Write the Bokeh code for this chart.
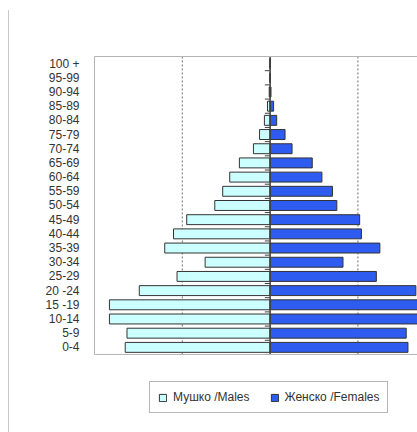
from bokeh.plotting import figure
from bokeh.models import (Range1d, FixedTicker, Span, Legend, LegendItem,
                          ColumnDataSource)
from bokeh.embed import file_html
from bokeh.resources import INLINE

# Age groups, bottom to top
age_groups = ["0-4", "5-9", "10-14", "15 -19", "20 -24", "25-29", "30-34",
              "35-39", "40-44", "45-49", "50-54", "55-59", "60-64", "65-69",
              "70-74", "75-79", "80-84", "85-89", "90-94", "95-99", "100 +"]
males = [165, 163, 183, 183, 149, 106, 74, 120, 110, 95, 63, 54, 46, 35,
         19, 12, 6.5, 3, 1, 0, 0]
females = [157, 155, 185, 190, 166, 121, 83, 125, 104, 102, 76, 71, 59, 48,
           25, 17, 7.5, 4, 1, 0, 0]
grid_ticks = [-100, 100]

male_color = "#ccffff"
female_color = "#2e5bf0"
edge = "#333333"
frame_grey = "#b4b4b4"
font = "Liberation Sans"

n = len(age_groups)
pos = list(range(n))
lo, hi = -0.5, n - 0.5

src = ColumnDataSource(dict(
    y=pos,
    m_left=[-v for v in males],
    zero=[0] * n,
    f_right=females,
    tick_y=[i - 0.5 for i in pos],
))

p = figure(width=409, height=422, output_backend="svg", toolbar_location=None,
           x_range=Range1d(-200, 169), y_range=Range1d(-6.0, hi),
           x_axis_location="above", frame_height=376,
           min_border_left=85, min_border_top=46, min_border_right=0,
           min_border_bottom=0)
p.margin = (10, 0, 0, 8)
p.styles = {"border-left": "1px solid #c8c8c8"}
p.outline_line_color = None
p.background_fill_color = "white"
p.border_fill_color = "white"
p.xgrid.grid_line_color = None
p.ygrid.grid_line_color = None

# dashed reference lines, confined to the pyramid area
p.segment(x0=grid_ticks, x1=grid_ticks, y0=lo, y1=hi,
          line_color="#6e6e6e", line_dash="2 2", line_width=1)

m = p.hbar(y="y", left="m_left", right="zero", height=0.7, source=src,
           fill_color=male_color, line_color=edge, line_width=1)
f = p.hbar(y="y", left="zero", right="f_right", height=0.7, source=src,
           fill_color=female_color, line_color=edge, line_width=1)

# centre axis with small ticks at the group boundaries
p.segment(x0=0, x1=0, y0=lo, y1=hi, line_color="#404040", line_width=1.5)
p.segment(x0=-6, x1=0, y0="tick_y", y1="tick_y", source=src,
          line_color="#404040", line_width=1)

# bottom edge of the plotting box
p.add_layout(Span(location=lo, dimension="width", line_color=frame_grey,
                  line_width=1))

# top edge: the (label-less) x axis
p.xaxis.ticker = FixedTicker(ticks=[])
p.xaxis.major_label_text_font_size = "0pt"
p.xaxis.major_tick_line_color = None
p.xaxis.minor_tick_line_color = None
p.xaxis.axis_line_color = frame_grey

# left edge with the age labels
p.yaxis.bounds = (lo, hi)
p.yaxis.ticker = FixedTicker(ticks=pos)
p.yaxis.major_label_overrides = {i: lab for i, lab in zip(pos, age_groups)}
p.yaxis.axis_line_color = frame_grey
p.yaxis.major_tick_line_color = None
p.yaxis.minor_tick_line_color = None
p.yaxis.major_label_standoff = 9
p.yaxis.major_label_text_font = font
p.yaxis.major_label_text_font_size = "12px"
p.yaxis.major_label_text_color = "#333333"

legend = Legend(items=[LegendItem(label="Мушко /Males", renderers=[m]),
                       LegendItem(label="Женско /Females", renderers=[f])],
                orientation="horizontal", location=(55, 19),
                label_text_font=font, label_text_font_size="12px",
                label_text_color="#333333",
                glyph_width=9, glyph_height=9, label_standoff=6, spacing=20,
                padding=8, margin=0,
                border_line_color="#707070", border_line_width=1.5,
                background_fill_color="white", background_fill_alpha=1)
p.add_layout(legend, "center")

open("out.html", "w").write(file_html(p, INLINE))
